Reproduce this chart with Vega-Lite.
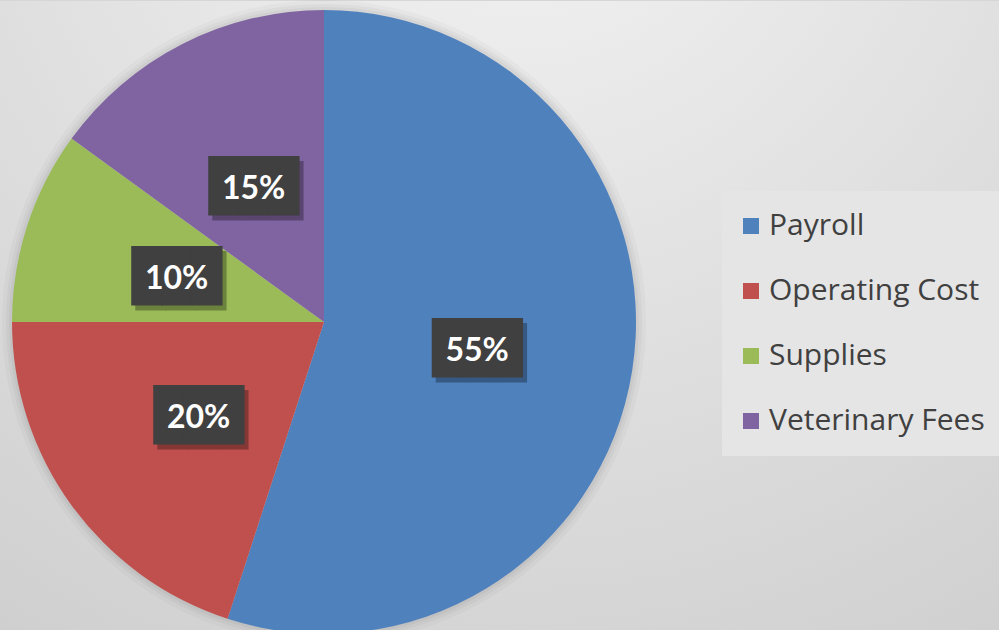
{
  "$schema": "https://vega.github.io/schema/vega-lite/v6.json",
  "width": 648,
  "height": 642,
  "padding": 0,
  "autosize": {"type": "pad"},
  "background": "#d6d6d6",
  "config": {"view": {"stroke": null}},
  "data": {"values": [
    {"category": "Payroll", "value": 55, "label": "55%", "order": 1},
    {"category": "Operating Cost", "value": 20, "label": "20%", "order": 2},
    {"category": "Supplies", "value": 10, "label": "10%", "order": 3},
    {"category": "Veterinary Fees", "value": 15, "label": "15%", "order": 4}
  ]},
  "layer": [
    {
      "data": {"values": [{"bg": 1}]},
      "mark": {"type": "rect", "clip": false, "color": {"gradient": "radial", "x1": 0.52, "y1": 0.0, "x2": 0.52, "y2": 0.0, "r1": 0, "r2": 1.15, "stops": [{"offset": 0, "color": "#f4f4f4"}, {"offset": 0.45, "color": "#e0e0e0"}, {"offset": 1, "color": "#c8c8c8"}]}},
      "encoding": {
        "x": {"value": 0},
        "x2": {"value": {"expr": "width + 352"}},
        "y": {"value": 0},
        "y2": {"value": {"expr": "height"}}
      }
    },
    {
      "mark": {"type": "arc", "outerRadius": 322, "color": "#000000", "opacity": 0.025},
      "encoding": {
        "theta": {"field": "value", "type": "quantitative", "stack": true},
        "order": {"field": "order", "type": "quantitative"}
      }
    },
    {
      "mark": {"type": "arc", "outerRadius": 318, "color": "#000000", "opacity": 0.03},
      "encoding": {
        "theta": {"field": "value", "type": "quantitative", "stack": true},
        "order": {"field": "order", "type": "quantitative"}
      }
    },
    {
      "mark": {"type": "arc", "outerRadius": 315, "color": "#000000", "opacity": 0.035},
      "encoding": {
        "theta": {"field": "value", "type": "quantitative", "stack": true},
        "order": {"field": "order", "type": "quantitative"}
      }
    },
    {
      "mark": {"type": "arc", "outerRadius": 312},
      "encoding": {
        "theta": {"field": "value", "type": "quantitative", "stack": true},
        "order": {"field": "order", "type": "quantitative"},
        "color": {
          "field": "category", "type": "nominal",
          "scale": {"domain": ["Payroll", "Operating Cost", "Supplies", "Veterinary Fees"], "range": ["#4f81bd", "#c0504d", "#9bbb59", "#8064a2"]},
          "legend": {
            "orient": "none", "legendX": 722, "legendY": 190, "title": null,
            "fillColor": "#e5e5e5", "padding": 20,
            "symbolType": "square", "symbolSize": 256, "symbolStrokeWidth": 0, "symbolOffset": -6,
            "labelFontSize": 30, "labelFont": "Open Sans", "labelColor": "#404040",
            "rowPadding": 35, "labelOffset": 3, "labelLimit": 400
          }
        }
      }
    },
    {
      "mark": {"type": "text", "radius": 155, "text": "███", "font": "DejaVu Sans Mono", "fontSize": 50, "color": "#000000", "opacity": 0.3, "dx": 4, "dy": 9, "baseline": "middle"},
      "encoding": {
        "theta": {"field": "value", "type": "quantitative", "stack": true},
        "order": {"field": "order", "type": "quantitative"}
      }
    },
    {
      "mark": {"type": "text", "radius": 155, "text": "███", "font": "DejaVu Sans Mono", "fontSize": 50, "color": "#404040", "dy": 4, "baseline": "middle"},
      "encoding": {
        "theta": {"field": "value", "type": "quantitative", "stack": true},
        "order": {"field": "order", "type": "quantitative"}
      }
    },
    {
      "mark": {"type": "text", "radius": 155, "font": "Lato", "fontSize": 32, "fontWeight": "bold", "color": "#ffffff", "dy": 5, "baseline": "middle"},
      "encoding": {
        "theta": {"field": "value", "type": "quantitative", "stack": true},
        "order": {"field": "order", "type": "quantitative"},
        "text": {"field": "label", "type": "nominal"}
      }
    }
  ]
}
